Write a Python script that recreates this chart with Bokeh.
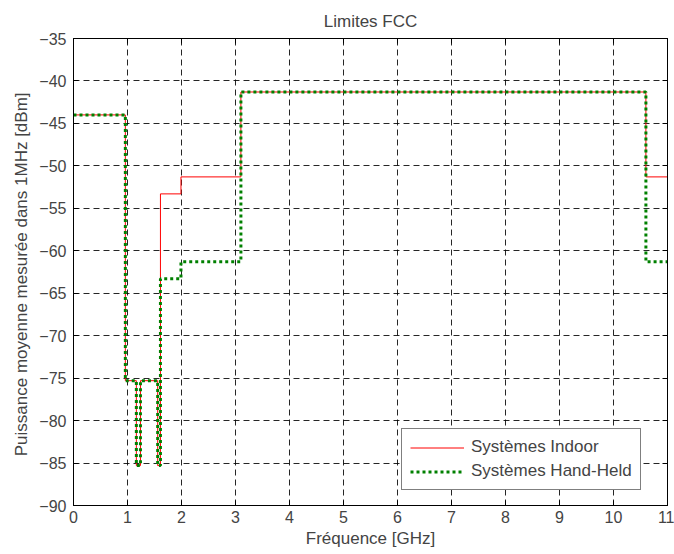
from bokeh.plotting import figure
from bokeh.models import LinearAxis, Range1d, FixedTicker, Legend, LegendItem, CustomJSTickFormatter
from bokeh.embed import file_html
from bokeh.resources import INLINE

# --- data ---
freq_edges = [0, 0.96, 1.164, 1.240, 1.559, 1.610, 1.99, 3.1, 10.6, 11]
indoor_levels = [-44, -75.3, -85.3, -75.3, -85.3, -53.3, -51.3, -41.3, -51.3]
handheld_levels = [-44, -75.3, -85.3, -75.3, -85.3, -63.3, -61.3, -41.3, -61.3]
x_ticks = list(range(0, 12))
y_ticks = list(range(-90, -34, 5))
title_text = "Limites FCC"
x_label = "Fréquence [GHz]"
y_label = "Puissance moyenne mesurée dans  1MHz [dBm]"
series_names = ["Systèmes Indoor", "Systèmes Hand-Held"]


def step_xy(edges, levels):
    xs, ys = [], []
    for i, lv in enumerate(levels):
        xs += [edges[i], edges[i + 1]]
        ys += [lv, lv]
    return xs, ys


FONT = "Liberation Sans"
FS = "16px"
FL = "17px"

p = figure(output_backend="svg", toolbar_location=None,
           x_range=Range1d(0, 11), y_range=Range1d(-90, -35),
           frame_width=594, frame_height=467,
           min_border_left=73, min_border_right=7, min_border_top=38, min_border_bottom=49)
p.background_fill_color = "white"
p.border_fill_color = "white"
p.outline_line_color = "black"
p.outline_line_width = 1

p.title.text = title_text
p.title.align = "center"
p.title.text_font = FONT
p.title.text_font_size = FL
p.title.text_font_style = "normal"
p.title.standoff = 16

for ax in (p.xaxis[0], p.yaxis[0]):
    ax.major_tick_in = 5
    ax.major_tick_out = 0
    ax.minor_tick_in = 0
    ax.minor_tick_out = 0
    ax.axis_line_color = "black"
    ax.major_tick_line_color = "black"
    ax.major_label_text_font = FONT
    ax.major_label_text_font_size = FS
    ax.axis_label_text_font = FONT
    ax.axis_label_text_font_size = FL
    ax.axis_label_text_font_style = "normal"

p.xaxis[0].ticker = FixedTicker(ticks=x_ticks)
p.yaxis[0].ticker = FixedTicker(ticks=y_ticks)
p.xaxis[0].axis_label = x_label
p.yaxis[0].axis_label = y_label
p.xaxis[0].major_label_standoff = 5
p.xaxis[0].axis_label_standoff = 3
p.yaxis[0].major_label_standoff = 7
p.yaxis[0].axis_label_standoff = 5

# top and right box axes with inward ticks, no labels
blank = CustomJSTickFormatter(code="return ''")
for loc, ticks in (("right", y_ticks), ("above", x_ticks)):
    a = LinearAxis(ticker=FixedTicker(ticks=ticks), formatter=blank,
                   major_tick_in=5, major_tick_out=0,
                   minor_tick_in=0, minor_tick_out=0,
                   major_label_standoff=0, axis_line_color="black")
    p.add_layout(a, loc)

for g in (p.xgrid[0], p.ygrid[0]):
    g.grid_line_color = "black"
    g.grid_line_dash = "6 4"
    g.grid_line_alpha = 0.85
    g.grid_line_width = 1
p.xgrid[0].ticker = FixedTicker(ticks=x_ticks)
p.ygrid[0].ticker = FixedTicker(ticks=y_ticks)

xi, yi = step_xy(freq_edges, indoor_levels)
xh, yh = step_xy(freq_edges, handheld_levels)
r1 = p.line(xi, yi, line_color="red", line_width=1)
r2 = p.line(xh, yh, line_color="#008000", line_width=3, line_dash="3 3")

legend = Legend(items=[LegendItem(label=series_names[0], renderers=[r1]),
                       LegendItem(label=series_names[1], renderers=[r2])],
                location=(328, 15), border_line_color="black", border_line_width=1,
                label_text_font=FONT, label_text_font_size=FL,
                glyph_width=54, glyph_height=15, label_height=15, label_standoff=7,
                padding=8, spacing=4, margin=0, background_fill_alpha=1)
p.add_layout(legend, "center")

open("out.html", "w").write(file_html(p, INLINE))
